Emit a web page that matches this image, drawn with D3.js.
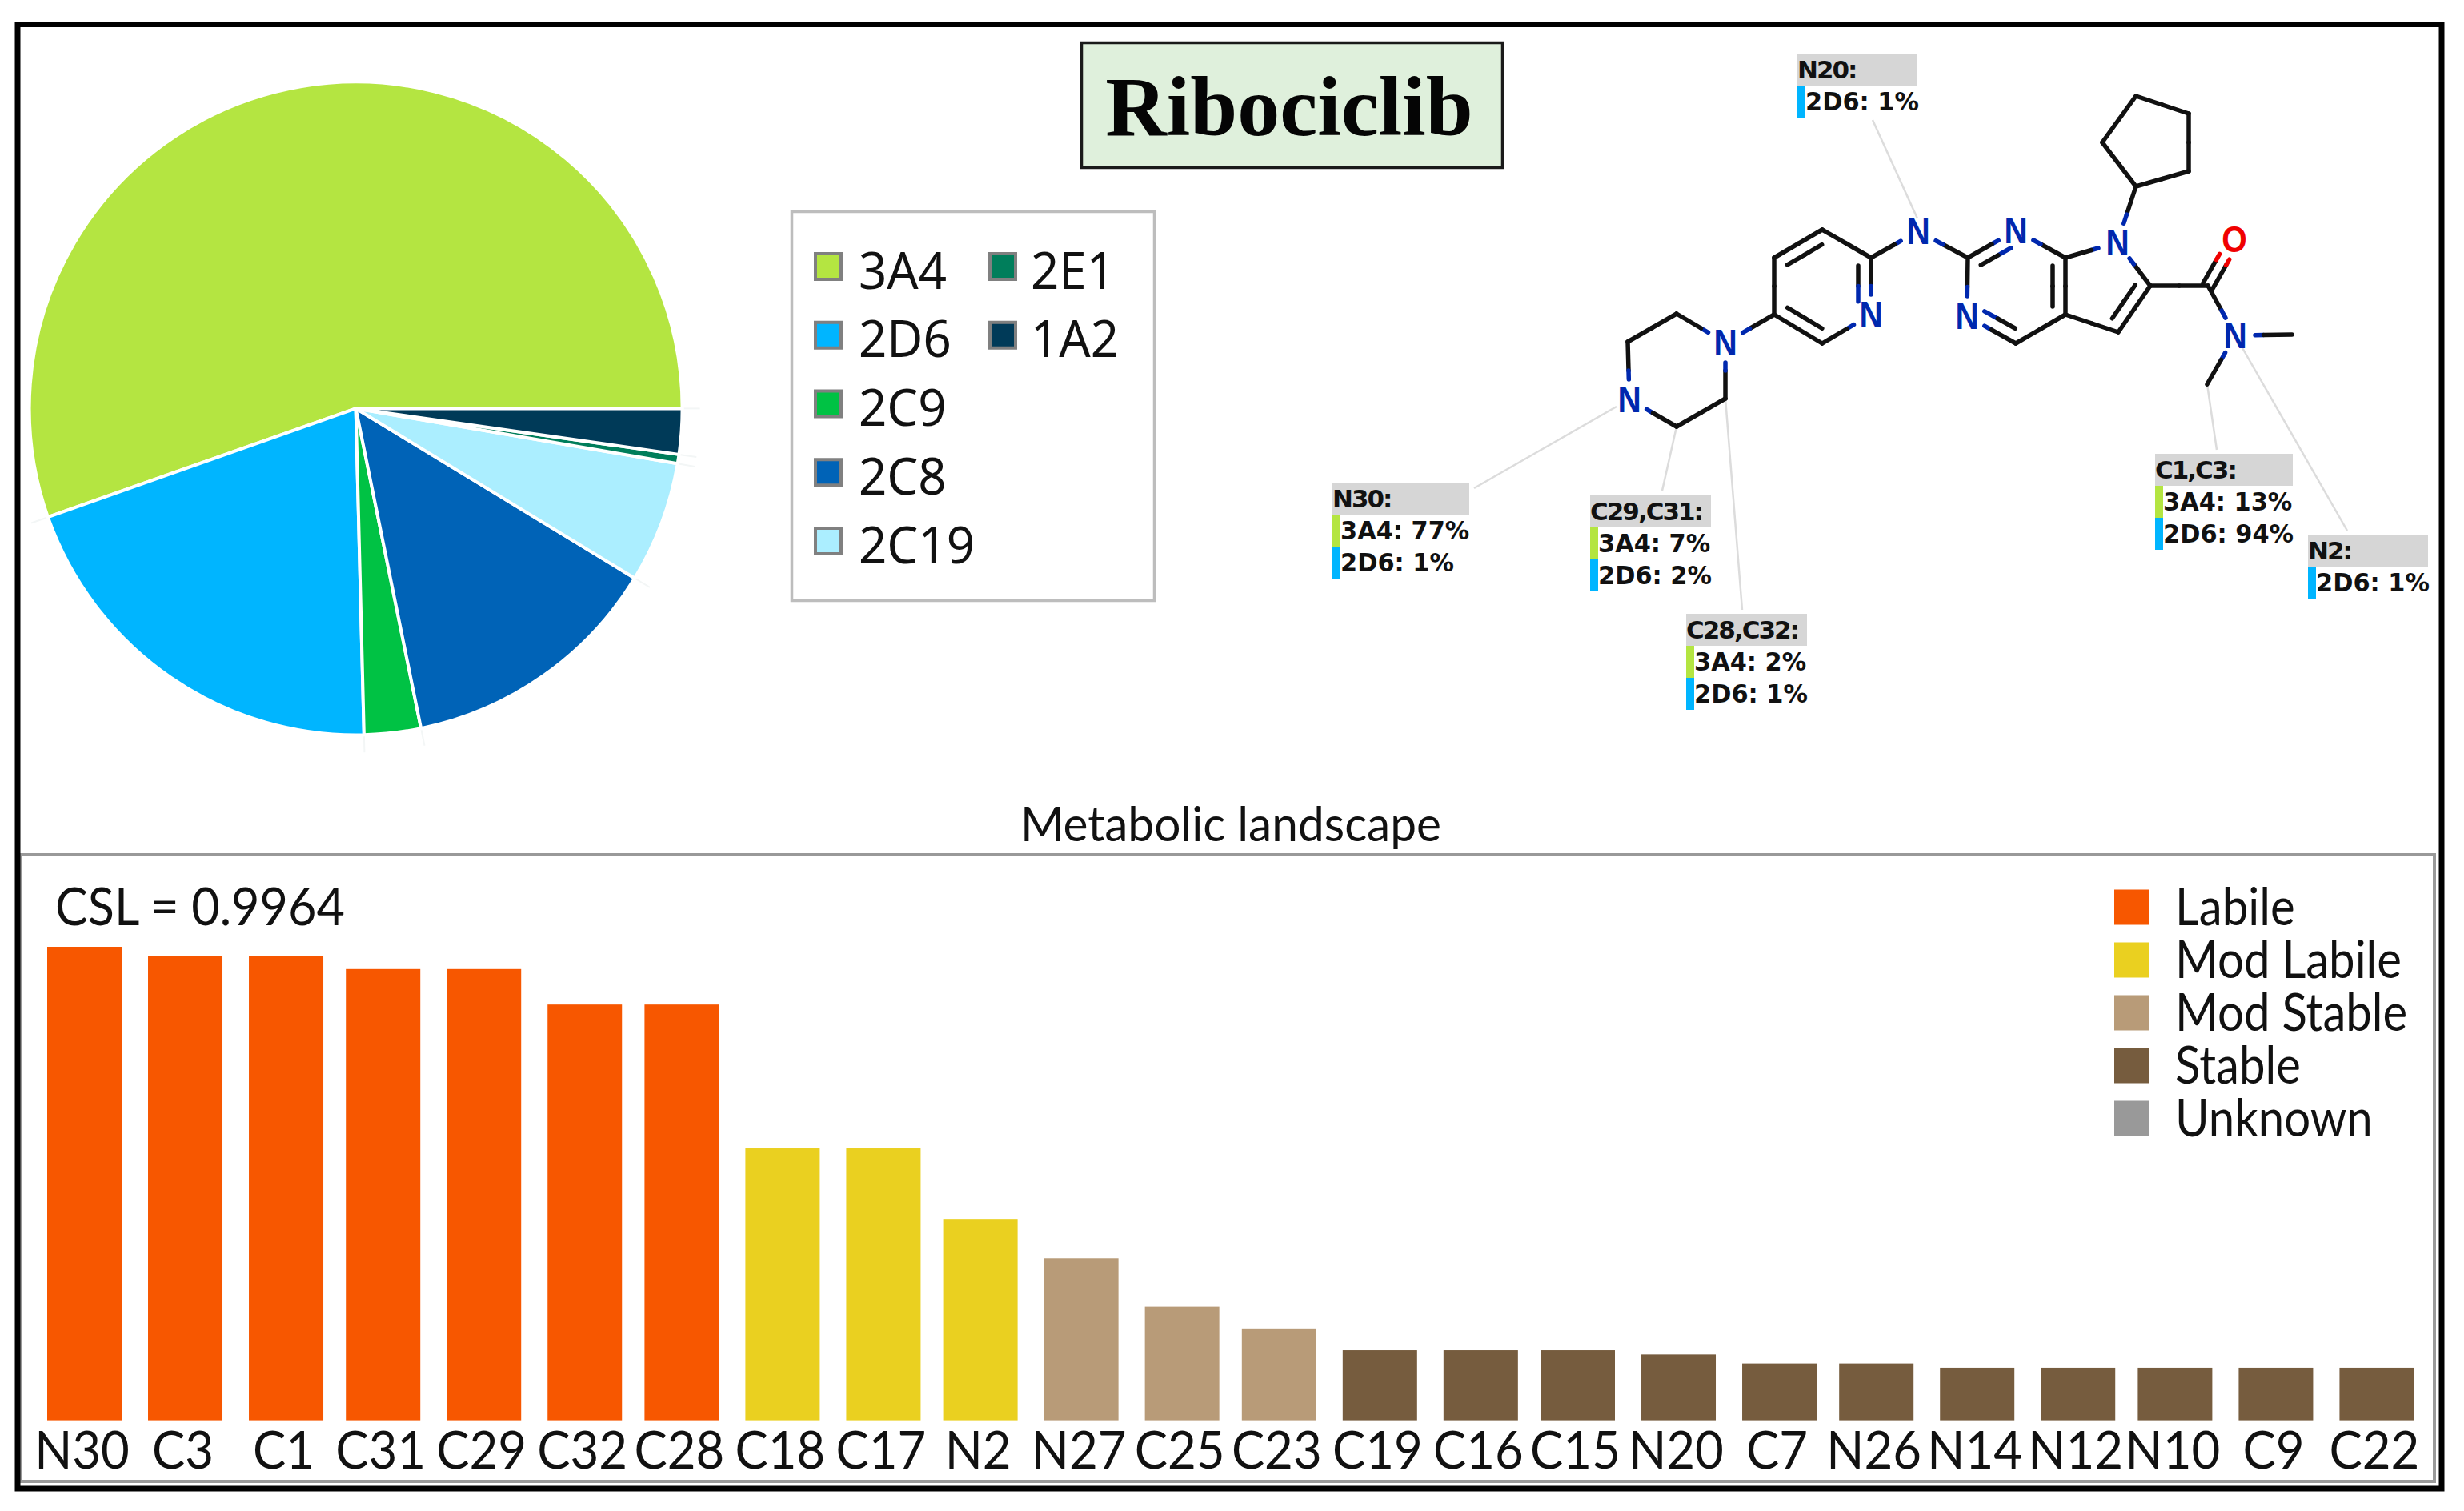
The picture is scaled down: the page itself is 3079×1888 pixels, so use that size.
<!DOCTYPE html>
<html><head><meta charset="utf-8">
<script src="https://cdn.jsdelivr.net/npm/d3@7"></script>
<style>html,body{margin:0;background:#fff}svg{display:block}</style></head>
<body><div id="c"></div>
<script>
// ---- data ----
const isoforms = ["3A4","2D6","2C9","2C8","2C19","2E1","1A2"];
const isoformShare = [55.4,20.0,2.8,13.1,6.0,0.45,2.25];
const isoformColors = ["#B4E541","#00B5FF","#00C244","#0063B7","#ABEEFF","#007E5B","#003A58"];
const legendColumns = [["3A4","2D6","2C9","2C8","2C19"],["2E1","1A2"]];

const sites = ["N30","C3","C1","C31","C29","C32","C28","C18","C17","N2","N27","C25","C23","C19","C16","C15","N20","C7","N26","N14","N12","N10","C9","C22"];
const siteLability = [1.000,0.981,0.981,0.953,0.953,0.878,0.878,0.574,0.574,0.425,0.342,0.240,0.194,0.148,0.148,0.148,0.139,0.120,0.120,0.111,0.111,0.111,0.111,0.111];
const siteClass = ["Labile","Labile","Labile","Labile","Labile","Labile","Labile","Mod Labile","Mod Labile","Mod Labile","Mod Stable","Mod Stable","Mod Stable","Stable","Stable","Stable","Stable","Stable","Stable","Stable","Stable","Stable","Stable","Stable"];
const classNames = ["Labile","Mod Labile","Mod Stable","Stable","Unknown"];
const classColors = ["#F75700","#EAD020","#B89B78","#765C3E","#999999"];

// molecule diagram: atom id, element, x, y
const atoms = [
 ["a1","C",2669,120],["a2","C",2735,142],["a3","C",2735,214],["a4","C",2669,233],["a5","C",2627,178],
 ["n7","N",2646,303],["c7a","C",2581,322],["n1","N",2519,288],["c2","C",2459,322],["n3","N",2458,395],
 ["c4","C",2519,429],["c4a","C",2581,393],["c5","C",2647,415],["c6","C",2687,357],["cam","C",2759,357],
 ["o","O",2792,299],["nam","N",2793,419],["me1","C",2864,418],["me2","C",2758,480],["nh","N",2397,289],
 ["p2","C",2338,322],["pn","N",2338,393],["p6","C",2277,429],["p5","C",2217,393],["p4","C",2217,322],["p3","C",2277,287],
 ["pz1","N",2156,428],["pz2","C",2095,392],["pz3","C",2034,427],["pz4","N",2036,499],["pz5","C",2095,533],["pz6","C",2156,498]
];
const bonds = [
 ["a1","a2"],["a2","a3"],["a3","a4"],["a4","a5"],["a5","a1"],["a4","n7"],
 ["n7","c7a"],["c7a","n1"],["n1","c2",2,"pym"],["c2","n3"],["n3","c4",2,"pym"],["c4","c4a"],["c4a","c7a",2,"pym"],
 ["c4a","c5"],["c5","c6",2,"pyr"],["c6","n7"],["c6","cam"],["cam","nam"],["nam","me1"],["nam","me2"],
 ["c2","nh"],["nh","p2"],["p2","pn",2,"py"],["pn","p6"],["p6","p5",2,"py"],["p5","p4"],["p4","p3",2,"py"],["p3","p2"],
 ["p5","pz1"],["pz1","pz2"],["pz2","pz3"],["pz3","pz4"],["pz4","pz5"],["pz5","pz6"],["pz6","pz1"]
];
const rings = {pym:["n1","c2","n3","c4","c4a","c7a"],pyr:["n7","c7a","c4a","c5","c6"],py:["p2","pn","p6","p5","p4","p3"]};

// site-of-metabolism annotation cards: title, rows, box, leader
const cards = [
 {title:"N20:",rows:[["2D6","1%"]],x:2246,y:67,w:149,lead:[2340,150,2396,273]},
 {title:"N30:",rows:[["3A4","77%"],["2D6","1%"]],x:1665,y:603,w:171,lead:[1842,610,2020,508]},
 {title:"C29,C31:",rows:[["3A4","7%"],["2D6","2%"]],x:1987,y:619,w:151,lead:[2077,613,2095,533]},
 {title:"C28,C32:",rows:[["3A4","2%"],["2D6","1%"]],x:2107,y:767,w:151,lead:[2177,762,2156,498]},
 {title:"C1,C3:",rows:[["3A4","13%"],["2D6","94%"]],x:2693,y:567,w:172,lead:[2770,562,2758,480]},
 {title:"N2:",rows:[["2D6","1%"]],x:2884,y:668,w:150,lead:[2933,663,2801,433]}
];

// ---- page ----
const W=3079,H=1888;
const svg=d3.select("#c").append("svg").attr("width",W).attr("height",H).attr("viewBox",[0,0,W,H]);
svg.append("rect").attr("width",W).attr("height",H).attr("fill","#fff");
const ink="#111";
const uiFont="Lato, 'Noto Sans', sans-serif";

// ---- pie ----
const colorOf=d3.scaleOrdinal(isoforms,isoformColors);
const pieR=408;
const pie=d3.pie().sort(null).startAngle(Math.PI/2).endAngle(Math.PI/2-2*Math.PI);
const arcs=pie(isoformShare);
const arc=d3.arc().innerRadius(0).outerRadius(pieR);
const gPie=svg.append("g").attr("transform","translate(444.6,510.4)");
gPie.selectAll("line").data(arcs).join("line")
 .attr("x1",d=>pieR*Math.sin(d.startAngle)).attr("y1",d=>-pieR*Math.cos(d.startAngle))
 .attr("x2",d=>(pieR+22)*Math.sin(d.startAngle)).attr("y2",d=>-(pieR+22)*Math.cos(d.startAngle))
 .attr("stroke","#f3f6f6").attr("stroke-width",2);
gPie.selectAll("path").data(arcs).join("path").attr("d",arc)
 .attr("fill",(d,i)=>colorOf(isoforms[i])).attr("stroke","#fff").attr("stroke-width",4).attr("stroke-linejoin","round");

// ---- pie legend ----
svg.append("rect").attr("x",989.5).attr("y",264.5).attr("width",453).attr("height",486)
 .attr("fill","#fff").attr("stroke","#bdbdbd").attr("stroke-width",3.5);
const rowY=d3.scalePoint().domain(d3.range(5)).range([315,658]);
const colX=d3.scalePoint().domain([0,1]).range([1017,1235]);
legendColumns.forEach((col,c)=>{
 const g=svg.append("g").selectAll("g").data(col).join("g")
  .attr("transform",(d,i)=>`translate(${colX(c)},${rowY(i)})`);
 g.append("rect").attr("x",2).attr("y",2).attr("width",32).attr("height",32)
  .attr("fill",d=>colorOf(d)).attr("stroke","#808080").attr("stroke-width",4);
 g.append("text").attr("transform",`translate(${c?53:56},45.5) scale(.965,1)`).text(d=>d)
  .attr("font-family","'Noto Sans'").attr("font-size",64).attr("fill",ink);
});

// ---- title ----
svg.append("rect").attr("x",1351.5).attr("y",53.5).attr("width",526).attr("height",156)
 .attr("fill","#DFF0DC").attr("stroke","#1a1a1a").attr("stroke-width",3.5);
svg.append("text").attr("x",1611).attr("y",169).attr("text-anchor","middle").text("Ribociclib")
 .attr("font-family","'Liberation Serif'").attr("font-weight",700).attr("font-size",106).attr("fill","#050505");

// ---- molecule ----
const gMol=svg.append("g");
const atomById=new Map(atoms.map(a=>[a[0],a]));
const elemColor={C:"#111",N:"#0028AE",O:"#F00000"};
const gap=el=>el==="C"?0:25;
function halfBond(p,q,elP,elQ,cut=1){
 const dx=q[0]-p[0],dy=q[1]-p[1],L=Math.hypot(dx,dy),ux=dx/L,uy=dy/L;
 const mx=(p[0]+q[0])/2,my=(p[1]+q[1])/2;
 const gp=gap(elP)*cut,gq=gap(elQ)*cut;
 const seg=(x1,y1,x2,y2,c)=>gMol.append("line").attr("x1",x1).attr("y1",y1).attr("x2",x2).attr("y2",y2)
   .attr("stroke",c).attr("stroke-width",5.5).attr("stroke-linecap","round");
 seg(p[0]+ux*gp,p[1]+uy*gp,mx,my,elemColor[elP]);
 seg(mx,my,q[0]-ux*gq,q[1]-uy*gq,elemColor[elQ]);
}
// leaders underneath
cards.forEach(c=>gMol.append("line").attr("x1",c.lead[0]).attr("y1",c.lead[1]).attr("x2",c.lead[2]).attr("y2",c.lead[3])
  .attr("stroke","#dcdcdc").attr("stroke-width",2.5));
bonds.forEach(([a,b,order,ring])=>{
 const A=atomById.get(a),B=atomById.get(b),p=[A[2],A[3]],q=[B[2],B[3]];
 halfBond(p,q,A[1],B[1]);
 if(order===2){
  const rs=rings[ring].map(id=>atomById.get(id));
  const cx=d3.mean(rs,r=>r[2]),cy=d3.mean(rs,r=>r[3]);
  const dx=q[0]-p[0],dy=q[1]-p[1],L=Math.hypot(dx,dy);
  let nx=-dy/L,ny=dx/L;
  if((cx-p[0])*nx+(cy-p[1])*ny<0){nx=-nx;ny=-ny;}
  const s=0.14,off=16;
  const p2=[p[0]+dx*s+nx*off,p[1]+dy*s+ny*off],q2=[q[0]-dx*s+nx*off,q[1]-dy*s+ny*off];
  halfBond(p2,q2,A[1],B[1],A[1]==="C"&&B[1]==="C"?0:0.25);
 }
});
// carbonyl double bond
{
 const C=atomById.get("cam"),O=atomById.get("o");
 const dx=O[2]-C[2],dy=O[3]-C[3],L=Math.hypot(dx,dy),nx=-dy/L,ny=dx/L,off=7;
 [-1,1].forEach(k=>halfBond([C[2]+nx*off*k,C[3]+ny*off*k],[O[2]+nx*off*k,O[3]+ny*off*k],"C","O"));
}
gMol.selectAll("text").data(atoms.filter(a=>a[1]!=="C")).join("text")
 .attr("transform",d=>`translate(${d[2]},${d[3]+16}) scale(.88,1)`).attr("text-anchor","middle").text(d=>d[1])
 .attr("font-family","'Liberation Sans'").attr("font-weight",700).attr("font-size",46)
 .attr("fill",d=>elemColor[d[1]]);

// ---- annotation cards ----
const rowH=40;
const gCards=svg.append("g").selectAll("g").data(cards).join("g").attr("transform",d=>`translate(${d.x},${d.y})`);
gCards.append("rect").attr("width",d=>d.w).attr("height",rowH).attr("fill","#D6D6D6");
gCards.append("text").attr("x",0).attr("y",31).text(d=>d.title)
 .attr("font-family","'DejaVu Sans'").attr("font-weight",700).attr("font-size",31).attr("letter-spacing",-2).attr("fill",ink);
gCards.each(function(d){
 const g=d3.select(this).selectAll("g").data(d.rows).join("g").attr("transform",(r,i)=>`translate(0,${rowH*(i+1)})`);
 g.append("rect").attr("width",10).attr("height",rowH).attr("fill",r=>colorOf(r[0]));
 g.append("text").attr("transform","translate(10,31) scale(.95,1)").text(r=>`${r[0]}: ${r[1]}`)
  .attr("font-family","'DejaVu Sans'").attr("font-weight",700).attr("font-size",32).attr("fill",ink);
});

// ---- bar panel ----
svg.append("text").attr("transform","translate(1538,1051) scale(.977,1)").attr("text-anchor","middle").text("Metabolic landscape")
 .attr("font-family",uiFont).attr("font-size",60).attr("fill",ink);
svg.append("rect").attr("x",25).attr("y",1068).attr("width",3017).attr("height",783)
 .attr("fill","#fff").attr("stroke","#999").attr("stroke-width",4);
svg.append("text").attr("transform","translate(69,1156) scale(.94,1)").text("CSL = 0.9964")
 .attr("font-family",uiFont).attr("font-size",65).attr("fill",ink);

const x0=59,step=124.4,barW=93;
const x=d3.scaleBand().domain(sites).range([x0,x0+step*(sites.length-1)+barW]).paddingInner(1-barW/step);
const y=d3.scaleLinear().domain([0,1]).range([1774.6,1183]);
const classColor=d3.scaleOrdinal(classNames,classColors);
const q=step/(77/3);                         // the raster's pixel grid
const snap=v=>x0+q*Math.ceil((v-x0)/q-0.02);
svg.append("g").selectAll("rect").data(sites).join("rect")
 .attr("x",d=>snap(x(d))).attr("width",barW)
 .attr("y",(d,i)=>y(siteLability[i])).attr("height",(d,i)=>y(0)-y(siteLability[i]))
 .attr("fill",(d,i)=>classColor(siteClass[i]));
const axis=svg.append("g").attr("transform","translate(0,1774.6)").call(d3.axisBottom(x).tickSize(0));
axis.select(".domain").remove();
axis.selectAll(".tick").attr("transform",d=>`translate(${snap(x(d))+barW/2-3},0)`);
axis.selectAll("text").attr("y",0).attr("dy",0).attr("transform","translate(0,60.5) scale(.95,1)")
 .attr("font-family",uiFont).attr("font-size",65).attr("fill",ink);

const gLeg=svg.append("g").selectAll("g").data(classNames).join("g")
 .attr("transform",(d,i)=>`translate(2642,${1111.5+i*66})`);
gLeg.append("rect").attr("width",44).attr("height",44).attr("fill",d=>classColor(d));
gLeg.append("text").attr("transform","translate(76,44) scale(.894,1)").text(d=>d)
 .attr("font-family",uiFont).attr("font-size",65).attr("fill",ink);

// ---- outer frame ----
svg.append("rect").attr("x",22).attr("y",30.5).attr("width",3029).attr("height",1829.5)
 .attr("fill","none").attr("stroke","#000").attr("stroke-width",7);
</script></body></html>
